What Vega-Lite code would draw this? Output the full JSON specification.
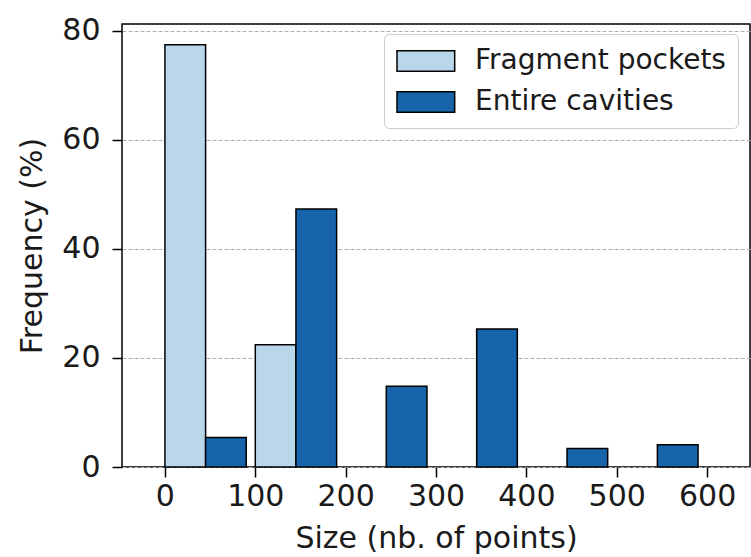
{
  "$schema": "https://vega.github.io/schema/vega-lite/v6.json",
  "width": 628,
  "height": 443,
  "autosize": {"type": "none"},
  "padding": {"left": 122, "top": 24, "right": 1, "bottom": 90},
  "background": "white",
  "config": {
    "view": {"stroke": "black", "strokeWidth": 1.5},
    "font": "DejaVu Sans",
    "axis": {
      "domain": false,
      "tickColor": "black",
      "tickSize": 10,
      "tickWidth": 1.5,
      "labelFont": "DejaVu Sans",
      "labelFontSize": 30,
      "labelColor": "#1a1a1a",
      "titleFont": "DejaVu Sans",
      "titleFontSize": 30,
      "titleFontWeight": "normal",
      "titleColor": "#1a1a1a"
    }
  },
  "data": {
    "values": [
      {"bin_start": 0, "bin_end": 45, "series": "Fragment pockets", "frequency": 77.4},
      {"bin_start": 100, "bin_end": 145, "series": "Fragment pockets", "frequency": 22.4},
      {"bin_start": 45, "bin_end": 90, "series": "Entire cavities", "frequency": 5.4},
      {"bin_start": 145, "bin_end": 190, "series": "Entire cavities", "frequency": 47.3},
      {"bin_start": 245, "bin_end": 290, "series": "Entire cavities", "frequency": 14.8},
      {"bin_start": 345, "bin_end": 390, "series": "Entire cavities", "frequency": 25.3},
      {"bin_start": 445, "bin_end": 490, "series": "Entire cavities", "frequency": 3.4},
      {"bin_start": 545, "bin_end": 590, "series": "Entire cavities", "frequency": 4.1}
    ]
  },
  "mark": {"type": "bar", "stroke": "black", "strokeWidth": 1.5, "orient": "vertical"},
  "encoding": {
    "x": {
      "field": "bin_start",
      "type": "quantitative",
      "scale": {"domain": [-47.5, 647.5], "nice": false, "zero": false, "padding": 0},
      "axis": {
        "values": [0, 100, 200, 300, 400, 500, 600],
        "title": "Size (nb. of points)",
        "grid": false,
        "labelPadding": 4,
        "titlePadding": 12,
        "labelFlush": false,
        "labelOverlap": false
      }
    },
    "x2": {"field": "bin_end"},
    "y": {
      "field": "frequency",
      "type": "quantitative",
      "scale": {"domain": [0, 81.2], "nice": false},
      "axis": {
        "values": [0, 20, 40, 60, 80],
        "title": "Frequency (%)",
        "grid": true,
        "gridDash": [4, 2],
        "gridColor": "#b0b0b0",
        "gridWidth": 1,
        "labelPadding": 12,
        "titlePadding": 14
      }
    },
    "y2": {"datum": 0},
    "color": {
      "field": "series",
      "type": "nominal",
      "scale": {"domain": ["Fragment pockets", "Entire cavities"], "range": ["#bad6eb", "#1764ab"]},
      "legend": {
        "title": null,
        "orient": "none",
        "legendX": 262,
        "legendY": 10,
        "padding": 12,
        "fillColor": "white",
        "strokeColor": "#cccccc",
        "cornerRadius": 5,
        "symbolType": "M-1,-0.74L3.12,-0.74L3.12,0.74L-1,0.74Z",
        "symbolSize": 784,
        "symbolStrokeColor": "black",
        "symbolStrokeWidth": 1.5,
        "symbolOpacity": 1,
        "labelFont": "DejaVu Sans",
        "labelFontSize": 28,
        "labelColor": "#1a1a1a",
        "labelOffset": 49,
        "labelLimit": 0,
        "rowPadding": 12
      }
    }
  }
}
